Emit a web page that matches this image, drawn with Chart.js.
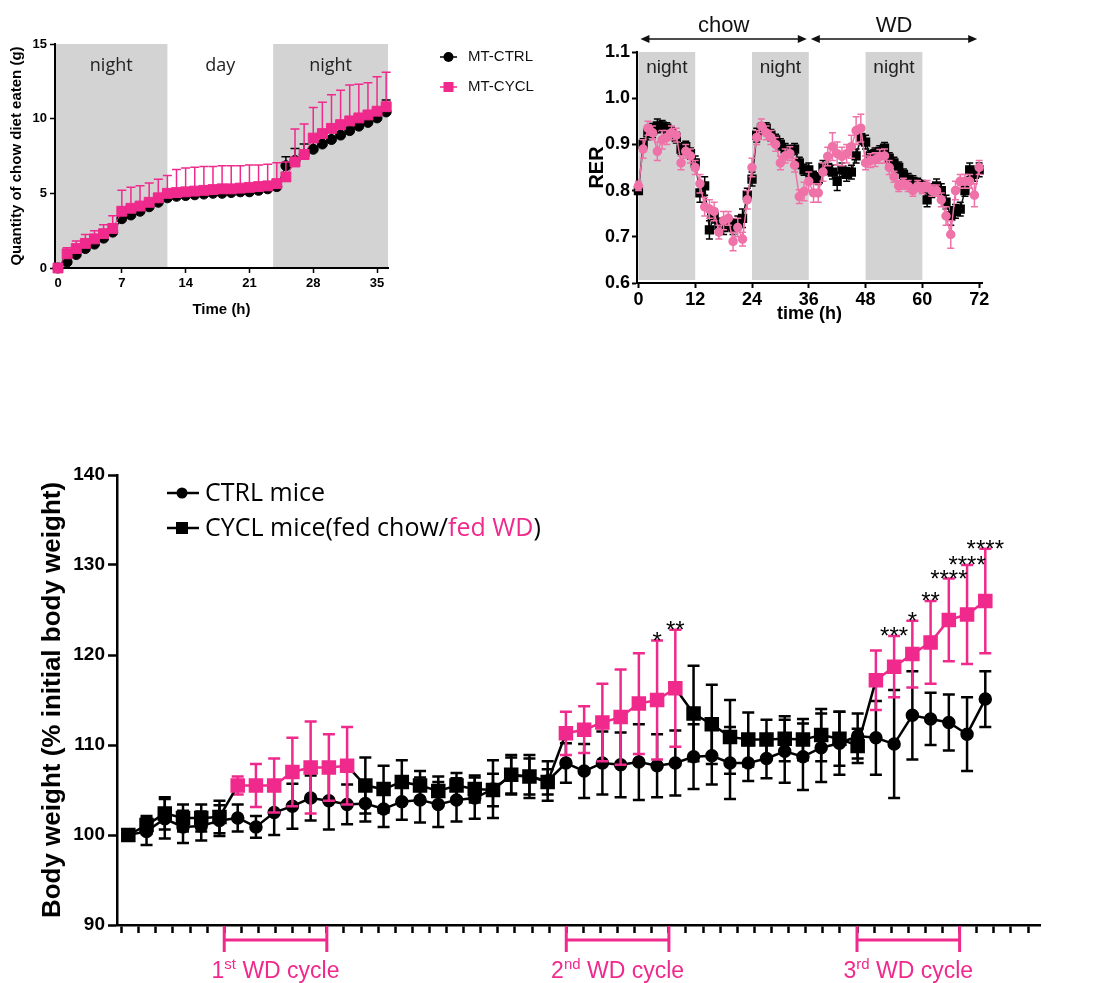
<!DOCTYPE html>
<html>
<head>
<meta charset="utf-8">
<script src="https://cdn.jsdelivr.net/npm/chart.js@4.4.1/dist/chart.umd.min.js"></script>
<style>
  html, body { margin: 0; padding: 0; background: #fff; }
  body { position: relative; width: 1094px; height: 983px; overflow: hidden; }
  .panel { position: absolute; }
</style>
</head>
<body>
<div class="panel" style="left:0;top:30px;width:560px;height:300px"><canvas id="foodChart"></canvas></div>
<div class="panel" style="left:580px;top:0;width:420px;height:330px"><canvas id="rerChart"></canvas></div>
<div class="panel" style="left:0;top:440px;width:1094px;height:543px"><canvas id="bwChart"></canvas></div>
<script>
const ARIAL = '"Liberation Sans", Arial, sans-serif';
const PINK = '#f0298c';
const RER_PINK = '#ef72a8';
const GREY = '#d3d3d3';

Chart.defaults.animation = false;
Chart.defaults.devicePixelRatio = 1;
Chart.defaults.maintainAspectRatio = false;
Chart.defaults.font.family = ARIAL;
Chart.defaults.color = '#000';
Chart.defaults.plugins.legend.display = false;
Chart.defaults.plugins.tooltip.enabled = false;

// ---------- food intake (top left) ----------
const foodHours = [0,1,2,3,4,5,6,7,8,9,10,11,12,13,14,15,16,17,18,19,20,21,22,23,24,25,26,27,28,29,30,31,32,33,34,35,36];
const ctrlFood = [0,0.4,0.9,1.3,1.6,2.0,2.4,3.3,3.55,3.8,4.1,4.4,4.7,4.8,4.85,4.9,4.95,5.0,5.0,5.05,5.1,5.1,5.2,5.3,5.45,6.85,7.2,7.6,7.95,8.3,8.6,8.9,9.2,9.5,9.75,10.05,10.45];
const ctrlFoodSem = [0,0.25,0.3,0.3,0.3,0.3,0.35,0.4,0.4,0.4,0.4,0.4,0.45,0.4,0.35,0.35,0.35,0.35,0.35,0.35,0.35,0.35,0.35,0.35,0.35,0.6,0.8,0.7,0.6,0.6,0.6,0.6,0.6,0.6,0.6,0.6,0.8];
const cyclFood = [0,0.95,1.3,1.65,1.95,2.3,2.65,3.8,4.0,4.15,4.4,4.7,5.0,5.05,5.1,5.15,5.2,5.25,5.3,5.3,5.35,5.4,5.45,5.5,5.65,6.1,7.1,7.6,8.7,9.0,9.35,9.6,9.85,10.05,10.25,10.5,10.8];
const cyclFoodSem = [0,0.41,0.5,0.6,0.55,0.6,0.85,1.4,1.4,1.35,1.3,1.25,1.2,1.55,1.6,1.6,1.6,1.55,1.55,1.55,1.5,1.5,1.45,1.45,1.4,1.0,2.2,2.05,2.05,2.1,2.25,2.3,2.4,2.25,2.15,2.3,2.3];
const foodTicksX = [0,7,14,21,28,35];
const foodTicksY = [0,5,10,15];
const foodPhases = [[-0.33,12,'night'],[12,23.6,'day'],[23.6,36.2,'night']];

// ---------- RER (top right) ----------
const rerHours = [0,1,2,3,4,5,6,7,8,9,10,11,12,13,14,15,16,17,18,19,20,21,22,23,24,25,26,27,28,29,30,31,32,33,34,35,36,
  37,38,39,40,41,42,43,44,45,46,47,48,49,50,51,52,53,54,55,56,57,58,59,60,61,62,63,64,65,66,67,68,69,70,71,72];
const ctrlRer = [0.80,0.90,0.925,0.93,0.94,0.94,0.935,0.925,0.915,0.89,0.895,0.88,
  0.86,0.795,0.81,0.715,0.745,0.725,0.72,0.73,0.72,0.73,0.74,0.79,
  0.825,0.92,0.935,0.935,0.92,0.91,0.90,0.89,0.885,0.89,0.86,0.845,
  0.845,0.83,0.825,0.85,0.85,0.84,0.82,0.845,0.835,0.84,0.875,0.915,
  0.905,0.875,0.88,0.885,0.892,0.87,0.86,0.85,0.835,0.825,0.82,0.815,
  0.81,0.78,0.80,0.81,0.80,0.775,0.745,0.755,0.76,0.80,0.845,0.835,
  0.845];
const ctrlRerSem = [0.008,0.012,0.015,0.015,0.015,0.012,0.012,0.012,0.012,0.012,0.012,0.012,
  0.015,0.02,0.02,0.02,0.015,0.015,0.015,0.015,0.015,0.015,0.02,0.015,
  0.015,0.015,0.012,0.012,0.012,0.012,0.012,0.012,0.012,0.012,0.012,0.012,
  0.015,0.012,0.012,0.015,0.015,0.015,0.02,0.015,0.015,0.015,0.015,0.015,
  0.015,0.012,0.012,0.012,0.012,0.012,0.012,0.012,0.012,0.012,0.012,0.012,
  0.012,0.015,0.015,0.015,0.015,0.015,0.02,0.015,0.015,0.012,0.015,0.015,
  0.015];
const cyclRer = [0.81,0.89,0.935,0.925,0.885,0.91,0.915,0.925,0.92,0.86,0.885,0.875,
  0.85,0.815,0.765,0.76,0.755,0.71,0.735,0.74,0.69,0.72,0.695,0.78,
  0.85,0.915,0.94,0.925,0.915,0.90,0.86,0.875,0.88,0.855,0.787,0.798,
  0.82,0.795,0.795,0.84,0.874,0.895,0.88,0.874,0.88,0.895,0.93,0.935,
  0.86,0.865,0.867,0.874,0.875,0.85,0.83,0.81,0.815,0.81,0.80,0.81,
  0.805,0.81,0.80,0.80,0.78,0.745,0.705,0.80,0.82,0.82,0.82,0.79,
  0.85];
const cyclRerSem = [0.01,0.02,0.015,0.015,0.02,0.02,0.015,0.015,0.015,0.015,0.015,0.015,
  0.015,0.02,0.02,0.02,0.02,0.015,0.02,0.015,0.02,0.02,0.015,0.02,
  0.02,0.015,0.015,0.015,0.015,0.015,0.015,0.015,0.015,0.015,0.015,0.02,
  0.02,0.02,0.02,0.02,0.02,0.03,0.025,0.02,0.02,0.025,0.03,0.03,
  0.015,0.015,0.015,0.015,0.015,0.015,0.012,0.012,0.012,0.012,0.012,0.012,
  0.012,0.012,0.012,0.012,0.015,0.02,0.03,0.02,0.015,0.015,0.015,0.025,
  0.015];
const rerTicksX = [0,12,24,36,48,60,72];
const rerTicksY = [0.6,0.7,0.8,0.9,1.0,1.1];
const rerNight = [[0,12],[24,36],[48,60]];
const rerDiets = [[0,36,'chow'],[36,72,'WD']];

// ---------- body weight (bottom) ----------
const bwCtrl = [100,100.4,101.8,100.9,101.0,101.6,101.9,100.9,102.5,103.2,104.1,103.8,
  103.4,103.5,102.9,103.7,103.9,103.4,103.9,104.1,105.1,106.6,106.5,106.0,
  108.0,107.1,108.0,107.8,108.1,107.7,108.0,108.7,108.8,108.0,108.0,108.5,
  109.3,108.7,109.7,110.2,111.0,110.8,110.1,113.3,112.9,112.5,111.2,115.1];
const bwCtrlSem = [0,1.5,2.2,1.8,1.6,1.7,1.5,1.2,2.5,2.5,2.5,3.2,
  2.2,2.0,2.0,2.0,2.5,2.5,2.4,2.3,3.2,2.0,2.4,2.2,
  2.2,3.0,3.5,3.6,4.2,3.5,3.6,3.6,3.2,4.0,2.0,2.2,
  3.5,3.7,3.8,3.5,2.5,4.1,6.0,4.9,2.9,3.1,4.1,3.1];
const bwCycl = [100,101.1,102.4,101.9,101.9,102.0,105.5,105.5,105.5,107.0,107.5,107.5,
  107.7,105.5,105.1,105.9,105.5,104.9,105.5,105.1,105.0,106.7,106.5,105.9,
  111.3,111.7,112.5,113.1,114.6,115.0,116.3,113.5,112.3,110.9,110.6,110.6,
  110.7,110.6,111.1,110.7,109.9,117.2,118.7,120.1,121.4,123.9,124.5,126.0];
const bwCyclSem = [0,1.0,1.8,1.5,1.5,1.8,1.0,2.4,3.0,3.8,5.1,3.7,
  4.3,3.1,2.6,2.4,1.6,1.6,1.4,1.5,1.8,2.2,2.0,1.4,
  2.4,2.6,4.3,5.3,5.6,6.6,6.5,5.3,4.4,4.1,3.0,2.2,
  2.5,2.3,2.9,3.0,1.9,3.3,3.4,3.7,4.6,4.6,5.5,5.8];
const bwStars = ['','','','','','','','','','','','',
  '','','','','','','','','','','','',
  '','','','','','*','**','','','','','',
  '','','','','','','***','*','**','****','****','****'];
const wdPoints = [6,7,8,9,10,11,12,24,25,26,27,28,29,30,41,42,43,44,45,46,47];
const bwTicksY = [90,100,110,120,130,140];
const weekTicks = Array.from({ length: 54 }, (_, i) => i);
const wdCycles = [[6,12],[26,32],[43,49]];
const cycleOrdinals = [['1','st'],['2','nd'],['3','rd']];
const bwWeeks = bwCtrl.map((_, i) => i);

const pts = (xs, ys) => xs.map((x, i) => ({ x, y: ys[i] }));
const isWd = i => wdPoints.includes(i);

// error bars: drawn right before each dataset so they sit under its own markers
const errorBars = {
  id: 'errorBars',
  beforeDatasetDraw(chart, args) {
    const ds = chart.data.datasets[args.index];
    if (!ds.sem) return;
    const yScale = chart.scales[args.meta.yAxisID];
    const ctx = chart.ctx;
    ctx.save();
    ctx.lineWidth = ds.semWidth;
    args.meta.data.forEach((p, i) => {
      const e = ds.sem[i];
      if (!e) return;
      const v = ds.data[i].y;
      const top = yScale.getPixelForValue(v + e);
      const bot = ds.semUpOnly ? p.y : yScale.getPixelForValue(v - e);
      const half = ds.semCap / 2;
      ctx.strokeStyle = typeof ds.semColor === 'function' ? ds.semColor(i) : ds.semColor;
      ctx.beginPath();
      ctx.moveTo(p.x, top); ctx.lineTo(p.x, bot);
      ctx.moveTo(p.x - half, top); ctx.lineTo(p.x + half, top);
      if (!ds.semUpOnly) { ctx.moveTo(p.x - half, bot); ctx.lineTo(p.x + half, bot); }
      ctx.stroke();
    });
    ctx.restore();
  }
};
Chart.register(errorBars);

function tickAxis(extra) {
  return Object.assign({
    grid: { drawOnChartArea: false, drawTicks: true, tickColor: '#000' },
    border: { color: '#000' },
    ticks: { color: '#000', autoSkip: false, maxRotation: 0 }
  }, extra);
}

// ---------- chart 1 ----------
const foodDecor = {
  id: 'foodDecor',
  beforeDraw(chart) {
    const { ctx, chartArea: a, scales: { x } } = chart;
    ctx.save();
    ctx.fillStyle = GREY;
    foodPhases.forEach(([s, e, label]) => {
      if (label !== 'night') return;
      const x0 = Math.max(a.left + 1, x.getPixelForValue(s));
      const x1 = Math.min(a.right, x.getPixelForValue(e));
      ctx.fillRect(x0, a.top, x1 - x0, a.bottom - a.top);
    });
    ctx.fillStyle = '#222';
    ctx.font = '18px "Open Sans"';
    ctx.textAlign = 'center';
    ctx.textBaseline = 'middle';
    foodPhases.forEach(([s, e, label]) => {
      ctx.fillText(label, (x.getPixelForValue(s) + x.getPixelForValue(e)) / 2, a.top + 22);
    });
    ctx.restore();
  },
  afterDraw(chart) {
    const ctx = chart.ctx;
    ctx.save();
    ctx.font = '15px ' + ARIAL;
    ctx.textBaseline = 'middle';
    [['MT-CTRL', '#000', 'circle', 27], ['MT-CYCL', PINK, 'rect', 57]].forEach(([txt, col, shape, yy]) => {
      ctx.strokeStyle = col; ctx.fillStyle = col; ctx.lineWidth = 1.5;
      ctx.beginPath(); ctx.moveTo(440, yy); ctx.lineTo(457, yy); ctx.stroke();
      ctx.beginPath();
      if (shape === 'circle') ctx.arc(448.5, yy, 5, 0, Math.PI * 2);
      else ctx.rect(443.5, yy - 5, 10, 10);
      ctx.fill();
      ctx.fillStyle = '#111';
      ctx.fillText(txt, 468, yy);
    });
    ctx.restore();
  }
};

new Chart(document.getElementById('foodChart'), {
  type: 'line',
  data: {
    datasets: [
      { label: 'MT-CYCL', data: pts(foodHours, cyclFood), order: 0, clip: false,
        sem: cyclFoodSem, semUpOnly: true, semColor: PINK, semWidth: 1.5, semCap: 9,
        borderColor: PINK, borderWidth: 1, pointStyle: 'rect', pointRadius: 7,
        pointBackgroundColor: PINK, pointBorderColor: PINK },
      { label: 'MT-CTRL', data: pts(foodHours, ctrlFood), order: 1, clip: false,
        sem: ctrlFoodSem, semUpOnly: true, semColor: '#000', semWidth: 1.5, semCap: 9,
        borderColor: '#000', borderWidth: 1, pointStyle: 'circle', pointRadius: 5,
        pointBackgroundColor: '#000', pointBorderColor: '#000' }
    ]
  },
  options: {
    layout: { padding: { left: 0, top: 14, right: 172, bottom: 0 } },
    scales: {
      x: tickAxis({
        type: 'linear', min: -0.33, max: 36.2,
        afterFit: s => { s.height = 62; },
        afterBuildTicks: s => { s.ticks = foodTicksX.map(v => ({ value: v })); },
        grid: { drawOnChartArea: false, tickLength: 5, tickWidth: 1.5, tickColor: '#000' },
        border: { color: '#000', width: 2 },
        ticks: { color: '#000', font: { size: 13, weight: 'bold' }, padding: 3, maxRotation: 0, autoSkip: false },
        title: { display: true, text: 'Time (h)', color: '#000', font: { size: 15, weight: 'bold' }, padding: { bottom: 11 } }
      }),
      y: tickAxis({
        min: 0, max: 15,
        afterFit: s => { s.width = 55; },
        afterBuildTicks: s => { s.ticks = foodTicksY.map(v => ({ value: v })); },
        grid: { drawOnChartArea: false, tickLength: 5, tickWidth: 1.5, tickColor: '#000' },
        border: { color: '#000', width: 2 },
        ticks: { color: '#000', font: { size: 13, weight: 'bold' }, padding: 3 },
        title: { display: true, text: 'Quantity of chow diet eaten (g)', color: '#000', font: { size: 15, weight: 'bold' }, padding: { top: 8 } }
      })
    }
  },
  plugins: [foodDecor]
});

// ---------- chart 2 ----------
function arrowHead(ctx, x, y, dir) {
  ctx.beginPath();
  ctx.moveTo(x, y);
  ctx.lineTo(x - dir * 9, y - 4);
  ctx.lineTo(x - dir * 9, y + 4);
  ctx.closePath();
  ctx.fill();
}

const rerDecor = {
  id: 'rerDecor',
  beforeDraw(chart) {
    const { ctx, chartArea: a, scales: { x } } = chart;
    ctx.save();
    ctx.fillStyle = GREY;
    rerNight.forEach(([s, e]) => {
      const x0 = Math.max(a.left + 1, x.getPixelForValue(s));
      const x1 = x.getPixelForValue(e);
      ctx.fillRect(x0, a.top, x1 - x0, a.bottom - a.top - 3);
    });
    ctx.fillStyle = '#222';
    ctx.font = '19px ' + ARIAL;
    ctx.textAlign = 'center';
    ctx.textBaseline = 'middle';
    rerNight.forEach(([s, e]) => {
      ctx.fillText('night', (x.getPixelForValue(s) + x.getPixelForValue(e)) / 2, a.top + 16);
    });
    ctx.restore();
  },
  afterDraw(chart) {
    const { ctx, scales: { x } } = chart;
    ctx.save();
    ctx.strokeStyle = '#111'; ctx.fillStyle = '#111'; ctx.lineWidth = 1.5;
    ctx.font = '22px ' + ARIAL;
    ctx.textAlign = 'center';
    ctx.textBaseline = 'middle';
    rerDiets.forEach(([s, e, label]) => {
      const x0 = x.getPixelForValue(s) + 2, x1 = x.getPixelForValue(e) - 2, yy = 39;
      ctx.beginPath(); ctx.moveTo(x0 + 4, yy); ctx.lineTo(x1 - 4, yy); ctx.stroke();
      arrowHead(ctx, x0, yy, -1);
      arrowHead(ctx, x1, yy, 1);
      ctx.fillText(label, (x0 + x1) / 2, 26);
    });
    ctx.restore();
  }
};

new Chart(document.getElementById('rerChart'), {
  type: 'line',
  data: {
    datasets: [
      { label: 'MT-CYCL', data: pts(rerHours, cyclRer), order: 0, clip: false,
        sem: cyclRerSem, semColor: RER_PINK, semWidth: 1.5, semCap: 7,
        borderColor: RER_PINK, borderWidth: 1.5, pointStyle: 'circle', pointRadius: 4,
        pointBackgroundColor: RER_PINK, pointBorderColor: RER_PINK },
      { label: 'MT-CTRL', data: pts(rerHours, ctrlRer), order: 1, clip: false,
        sem: ctrlRerSem, semColor: '#000', semWidth: 1.5, semCap: 7,
        borderColor: '#111', borderWidth: 1.5, pointStyle: 'rect', pointRadius: 5.5,
        pointBackgroundColor: '#000', pointBorderColor: '#000' }
    ]
  },
  options: {
    layout: { padding: { left: 0, top: 52, right: 18, bottom: 0 } },
    scales: {
      x: tickAxis({
        type: 'linear', min: -0.3, max: 72.6,
        afterFit: s => { s.height = 47; },
        afterBuildTicks: s => { s.ticks = rerTicksX.map(v => ({ value: v })); },
        grid: { drawOnChartArea: false, tickLength: 5, tickWidth: 2, tickColor: '#000' },
        border: { color: '#000', width: 2 },
        ticks: { color: '#000', font: { size: 18, weight: 'bold' }, padding: 1, maxRotation: 0, autoSkip: false },
        title: { display: true, text: 'time (h)', color: '#000', font: { size: 18, weight: 'bold' }, padding: { bottom: 5 } }
      }),
      y: tickAxis({
        min: 0.6, max: 1.1,
        afterFit: s => { s.width = 57; },
        afterBuildTicks: s => { s.ticks = rerTicksY.map(v => ({ value: v })); },
        grid: { drawOnChartArea: false, tickLength: 5, tickWidth: 2, tickColor: '#000' },
        border: { color: '#000', width: 2 },
        ticks: { color: '#000', font: { size: 18, weight: 'bold' }, padding: 2, callback: v => v.toFixed(1) },
        title: { display: true, text: 'RER', color: '#000', font: { size: 20, weight: 'bold' }, padding: { top: 5 } }
      })
    }
  },
  plugins: [rerDecor]
});

// ---------- chart 3 ----------
const bwDecor = {
  id: 'bwDecor',
  afterDraw(chart) {
    const { ctx, chartArea: a, scales: { x, y, x2 } } = chart;
    ctx.save();

    // significance stars over the CYCL error bars
    ctx.fillStyle = '#000';
    ctx.font = '24px ' + ARIAL;
    ctx.textAlign = 'center';
    ctx.textBaseline = 'alphabetic';
    bwStars.forEach((s, i) => {
      if (!s) return;
      const top = y.getPixelForValue(bwCycl[i] + bwCyclSem[i]);
      ctx.fillText(s, x.getPixelForValue(bwWeeks[i]), top + 8);
    });

    // WD cycle brackets under the axis
    ctx.strokeStyle = PINK;
    ctx.lineWidth = 3;
    wdCycles.forEach(([s, e], k) => {
      const x0 = x2.getPixelForValue(s), x1 = x2.getPixelForValue(e);
      ctx.beginPath();
      ctx.moveTo(x0, a.bottom + 1); ctx.lineTo(x0, a.bottom + 27);
      ctx.moveTo(x1, a.bottom + 1); ctx.lineTo(x1, a.bottom + 27);
      ctx.moveTo(x0, a.bottom + 15); ctx.lineTo(x1, a.bottom + 15);
      ctx.stroke();

      const [num, sup] = cycleOrdinals[k];
      const rest = ' WD cycle';
      ctx.font = '23px ' + ARIAL;
      const wNum = ctx.measureText(num).width, wRest = ctx.measureText(rest).width;
      ctx.font = '15px ' + ARIAL;
      const wSup = ctx.measureText(sup).width;
      let sx = (x0 + x1) / 2 - (wNum + wSup + wRest) / 2;
      const base = a.bottom + 53;
      ctx.fillStyle = PINK;
      ctx.textAlign = 'left';
      ctx.font = '23px ' + ARIAL; ctx.fillText(num, sx, base); sx += wNum;
      ctx.font = '15px ' + ARIAL; ctx.fillText(sup, sx, base - 9); sx += wSup;
      ctx.font = '23px ' + ARIAL; ctx.fillText(rest, sx, base);
    });

    // legend
    ctx.textAlign = 'left';
    ctx.textBaseline = 'middle';
    ctx.font = '25px "Open Sans"';
    ctx.strokeStyle = '#000'; ctx.fillStyle = '#000'; ctx.lineWidth = 2.5;
    [[53, 'circle'], [88, 'rect']].forEach(([yy, shape]) => {
      ctx.beginPath(); ctx.moveTo(167, yy); ctx.lineTo(199, yy); ctx.stroke();
      ctx.beginPath();
      if (shape === 'circle') ctx.arc(182, yy, 5.5, 0, Math.PI * 2);
      else ctx.rect(176, yy - 6, 12, 12);
      ctx.fill();
    });
    ctx.fillText('CTRL mice', 205, 54);
    const part1 = 'CYCL mice(fed chow/';
    ctx.fillText(part1, 205, 89);
    let lx = 205 + ctx.measureText(part1).width;
    ctx.fillStyle = PINK;
    ctx.fillText('fed WD', lx, 89);
    lx += ctx.measureText('fed WD').width;
    ctx.fillStyle = '#000';
    ctx.fillText(')', lx, 89);
    ctx.restore();
  }
};

new Chart(document.getElementById('bwChart'), {
  type: 'line',
  data: {
    datasets: [
      { label: 'CYCL mice', data: pts(bwWeeks, bwCycl), order: 0, clip: false,
        sem: bwCyclSem, semColor: i => (isWd(i) ? PINK : '#000'), semWidth: 2.5, semCap: 12,
        borderColor: '#000', borderWidth: 2.5, pointStyle: 'rect', pointRadius: 8.5,
        segment: { borderColor: c => (isWd(c.p0DataIndex) && isWd(c.p1DataIndex) ? PINK : '#000') },
        pointBackgroundColor: bwWeeks.map(i => (isWd(i) ? PINK : '#000')),
        pointBorderColor: bwWeeks.map(i => (isWd(i) ? PINK : '#000')) },
      { label: 'CTRL mice', data: pts(bwWeeks, bwCtrl), order: 1, clip: false,
        sem: bwCtrlSem, semColor: '#000', semWidth: 2.5, semCap: 12,
        borderColor: '#000', borderWidth: 2.5, pointStyle: 'circle', pointRadius: 5.5,
        pointBackgroundColor: '#000', pointBorderColor: '#000' }
    ]
  },
  options: {
    layout: { padding: { left: 0, top: 35, right: 54, bottom: 0 } },
    scales: {
      x: { type: 'linear', display: false, min: -0.62, max: 50 },
      x2: tickAxis({
        type: 'linear', position: 'bottom', min: -0.27, max: 53.7,
        afterFit: s => { s.height = 58; },
        afterBuildTicks: s => { s.ticks = weekTicks.map(v => ({ value: v })); },
        grid: { drawOnChartArea: false, tickLength: 8, tickWidth: 2.5, tickColor: '#000' },
        border: { color: '#000', width: 2.5 },
        ticks: { display: true, callback: () => '', autoSkip: false, maxRotation: 0 }
      }),
      y: tickAxis({
        min: 90, max: 140,
        afterFit: s => { s.width = 117; },
        afterBuildTicks: s => { s.ticks = bwTicksY.map(v => ({ value: v })); },
        grid: { drawOnChartArea: false, tickLength: 9, tickWidth: 2.5, tickColor: '#000' },
        border: { color: '#000', width: 2.5 },
        ticks: { color: '#000', font: { size: 19, weight: 'bold' }, padding: 3 },
        title: { display: true, text: 'Body weight (% initial body weight)', color: '#000', font: { size: 26, weight: 'bold' }, padding: { top: 37 } }
      })
    }
  },
  plugins: [bwDecor]
});
</script>
</body>
</html>
